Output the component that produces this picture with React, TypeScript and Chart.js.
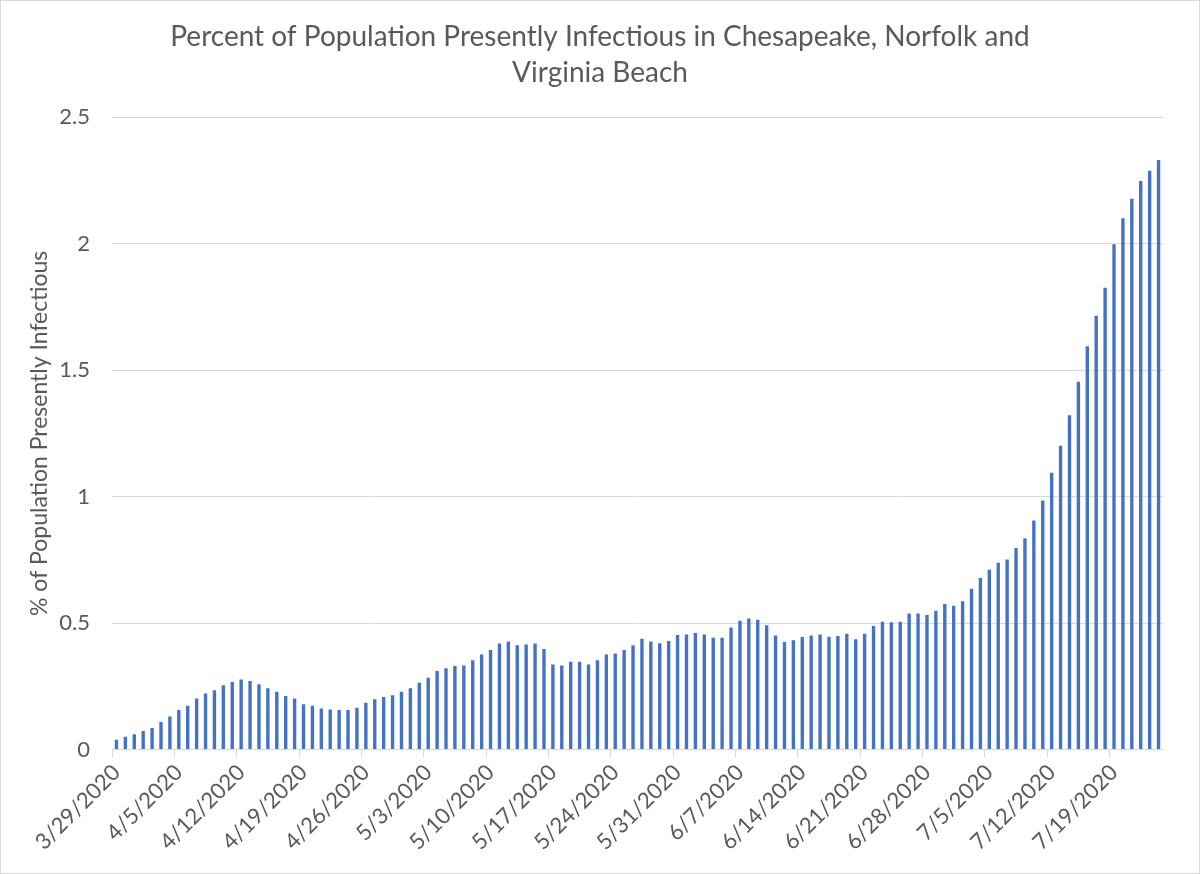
import { useEffect, useRef } from 'react';
import { Chart, registerables } from 'chart.js';

Chart.register(...registerables);

// % of population presently infectious, one bar per day from 3/29/2020
const startDate = { year: 2020, month: 3, day: 29 };
const dayCount = 118;
const infectious = [
  0.039, 0.05, 0.06, 0.073, 0.085, 0.109, 0.13, 0.156, 0.173, 0.202, 0.221, 0.234, 0.254, 0.267, 0.277, 0.271,
  0.258, 0.242, 0.228, 0.212, 0.202, 0.179, 0.173, 0.162, 0.158, 0.156, 0.156, 0.165, 0.185, 0.199, 0.208, 0.215,
  0.228, 0.242, 0.264, 0.284, 0.31, 0.321, 0.33, 0.332, 0.353, 0.376, 0.393, 0.419, 0.427, 0.412, 0.415, 0.419,
  0.397, 0.336, 0.332, 0.347, 0.347, 0.336, 0.353, 0.376, 0.38, 0.393, 0.412, 0.438, 0.427, 0.42, 0.429, 0.453,
  0.455, 0.461, 0.455, 0.442, 0.442, 0.482, 0.509, 0.518, 0.513, 0.491, 0.451, 0.425, 0.432, 0.445, 0.451, 0.455,
  0.446, 0.449, 0.458, 0.436, 0.458, 0.488, 0.505, 0.503, 0.505, 0.538, 0.538, 0.532, 0.549, 0.575, 0.568, 0.586,
  0.636, 0.678, 0.711, 0.738, 0.751, 0.797, 0.835, 0.905, 0.985, 1.094, 1.201, 1.322, 1.454, 1.594, 1.715, 1.826,
  1.998, 2.101, 2.178, 2.248, 2.288, 2.331,
];
const titleLines = ['Percent of Population Presently Infectious in Chesapeake, Norfolk and', 'Virginia Beach'];
const yAxisTitle = '% of Population Presently Infectious';
const labelEvery = 7;

const makeDates = () => {
  const out: string[] = [];
  const d = new Date(startDate.year, startDate.month - 1, startDate.day);
  for (let i = 0; i < dayCount; i++) {
    out.push(`${d.getMonth() + 1}/${d.getDate()}/${d.getFullYear()}`);
    d.setDate(d.getDate() + 1);
  }
  return out;
};

const TEXT = '#595959';
const GRID = '#d9d9d9';
const FONT = 'Lato';

const App = () => {
  const chartRef = useRef<HTMLCanvasElement | null>(null);

  useEffect(() => {
    if (!chartRef.current) return;
    const ctx = chartRef.current.getContext('2d');
    if (!ctx) return;

    const dates = makeDates();

    const chartInstance = new Chart(ctx, {
      type: 'bar',
      data: {
        labels: dates,
        datasets: [
          {
            data: infectious,
            backgroundColor: '#4472C4',
            barPercentage: 0.38,
            categoryPercentage: 1,
          },
        ],
      },
      options: {
        animation: false,
        responsive: false,
        maintainAspectRatio: false,
        layout: { padding: 0 },
        plugins: {
          legend: { display: false },
          tooltip: { enabled: false },
          title: {
            display: true,
            text: titleLines,
            color: TEXT,
            font: { family: FONT, size: 28, weight: 'normal', lineHeight: 1.29 },
            padding: { top: 18, bottom: 26 },
          },
        },
        scales: {
          x: {
            offset: true,
            grid: {
              offset: true,
              drawOnChartArea: false,
              tickLength: 8,
              color: (c: any) => (c.index % labelEvery === 0 ? GRID : 'rgba(0,0,0,0)'),
            },
            border: { color: GRID },
            ticks: {
              autoSkip: false,
              minRotation: 45,
              maxRotation: 45,
              padding: 2,
              color: TEXT,
              font: { family: FONT, size: 22 },
              callback: (_v: any, i: number) => (i % labelEvery === 0 ? dates[i] : ''),
            },
            afterFit: (s: any) => {
              s.height = 123.5;
            },
          },
          y: {
            min: 0,
            max: 2.5,
            grid: { color: GRID, drawTicks: false, tickLength: 0 },
            border: { display: false },
            ticks: {
              stepSize: 0.5,
              padding: 22,
              color: TEXT,
              font: { family: FONT, size: 22 },
              callback: (v: any) => String(v),
            },
            title: {
              display: true,
              text: yAxisTitle,
              color: TEXT,
              font: { family: FONT, size: 23 },
              padding: { top: 25, bottom: 0 },
            },
            afterFit: (s: any) => {
              s.width = 111;
            },
          },
          yRight: {
            type: 'linear',
            position: 'right',
            grid: { display: false },
            border: { display: false },
            ticks: { display: false },
            afterFit: (s: any) => {
              s.width = 36;
            },
          },
        },
      },
    });

    return () => {
      chartInstance.destroy();
    };
  }, []);

  return (
    <div
      style={{
        position: 'absolute',
        left: 0,
        top: 0,
        width: 1200,
        height: 874,
        boxSizing: 'border-box',
        border: '1px solid #d9d9d9',
        background: '#fff',
      }}
    >
      <canvas ref={chartRef} width={1198} height={872} style={{ display: 'block' }}></canvas>
    </div>
  );
};

export default App;
